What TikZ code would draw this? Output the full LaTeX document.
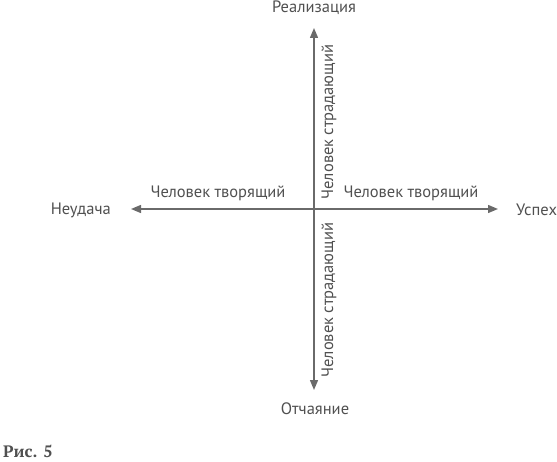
\documentclass[tikz,border=0pt]{standalone}
\usepackage{fontspec}
\setmainfont{PT Sans}
\newfontfamily\capfont{PT Serif}
\usetikzlibrary{arrows.meta}
\definecolor{axisgray}{HTML}{6A6A6A}
\definecolor{txtgray}{HTML}{505050}
\tikzset{
  axis/.style={draw=axisgray, line width=1.4pt, -{Triangle[length=10pt,width=8pt]}},
  lbl/.style={text=txtgray, font=\fontsize{16.5}{18}\selectfont, inner sep=0pt},
}
\begin{document}
\begin{tikzpicture}[x=1pt,y=-1pt]
\useasboundingbox (0,0) rectangle (557,462);
\coordinate (c) at (314,209);
\coordinate (ltip) at (131,209);
\coordinate (rtip) at (498,209);
\coordinate (ttip) at (314,28);
\coordinate (btip) at (314,390);
\draw[axis] (c) -- (ltip);
\draw[axis] (c) -- (rtip);
\draw[axis] (c) -- (ttip);
\draw[axis] (c) -- (btip);
\node[lbl] (top) at (314,8) {Реализация};
\node[lbl] (bot) at (315,409) {Отчаяние};
\node[lbl, anchor=east] (left) at (111,210) {Неудача};
\node[lbl, anchor=west] (right) at (516,210) {Успех};
\node[lbl] (lc) at (218,193) {Человек творящий};
\node[lbl] (rc) at (411,193) {Человек творящий};
\node[lbl, rotate=90] (us) at (329,122) {Человек страдающий};
\node[lbl, rotate=90] (ls) at (329,300) {Человек страдающий};
\node[anchor=base west, inner sep=0pt, text=txtgray, font=\capfont\bfseries\fontsize{16.5}{18}\selectfont] (fig) at (3,457) {Рис. 5};
\end{tikzpicture}
\end{document}
